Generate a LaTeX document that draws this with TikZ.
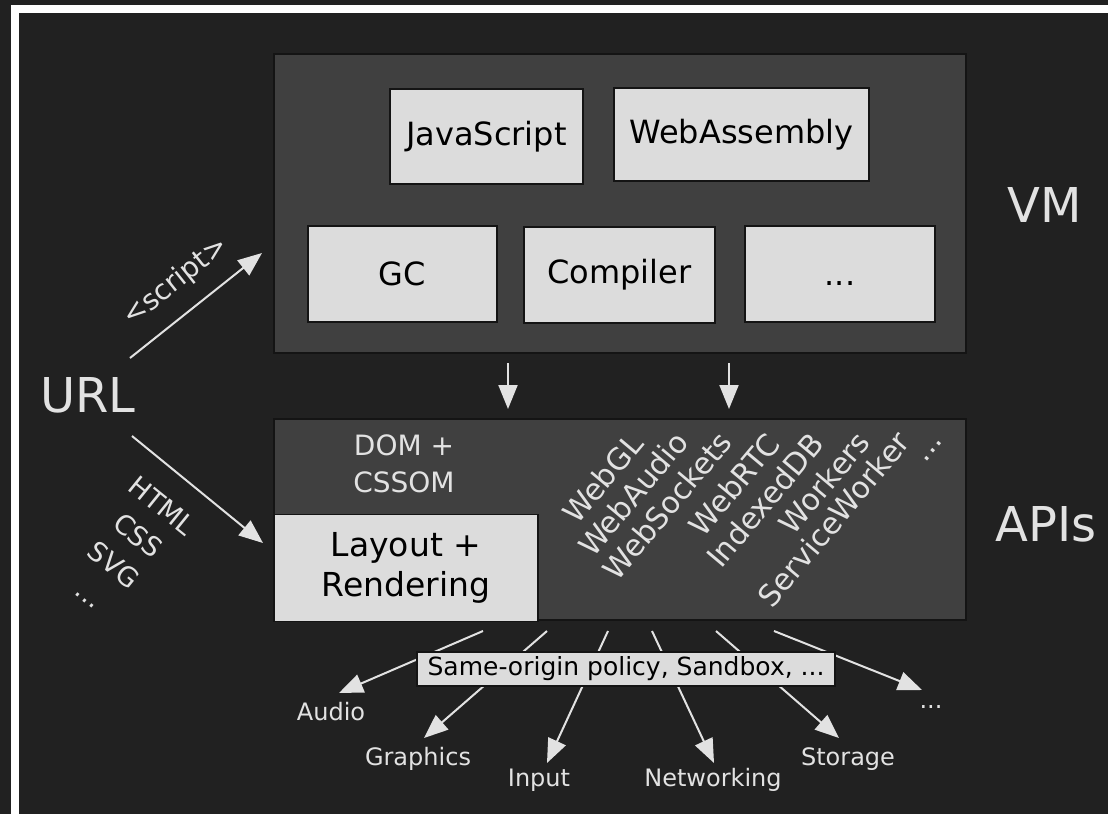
\documentclass[tikz,border=0pt]{standalone}
\usepackage{fontspec}
\setmainfont{DejaVu Sans}
\usetikzlibrary{arrows.meta}
\definecolor{bg}{HTML}{212121}
\definecolor{panel}{HTML}{404040}
\definecolor{lite}{HTML}{DCDCDC}
\definecolor{ink}{HTML}{E2E2E2}
\definecolor{edge}{HTML}{141414}
\begin{document}
\begin{tikzpicture}[x=1pt,y=-1pt,
  panelbox/.style={draw=edge, line width=2pt, fill=panel, inner sep=0pt},
  litebox/.style={draw=edge, line width=1.6pt, fill=lite, text=black, inner sep=0pt, font=\fontsize{32}{38}\selectfont},
  arr/.style={draw=ink, line width=2pt, -{Triangle[length=24pt,width=19pt]}},
  biglbl/.style={text=ink, inner sep=0pt, font=\fontsize{48}{56}\selectfont},
  lbl/.style={text=ink, inner sep=0pt, font=\fontsize{24}{30}\selectfont},
  apilbl/.style={text=ink, inner sep=0pt, rotate=50, anchor=base east, font=\fontsize{30}{36}\selectfont}
]
% background and frame
\fill[bg] (0,0) rectangle (1108,814);
\fill[white] (11,5) rectangle (1108,13);
\fill[white] (11,5) rectangle (19,814);
\useasboundingbox (0,0) rectangle (1108,814);

% VM panel
\node[panelbox, minimum width=692pt, minimum height=299pt] (vm) at (620,203.5) {};
\node[litebox, minimum width=193pt, minimum height=95pt] (js) at (486.5,136.5) {JavaScript};
\node[litebox, minimum width=255pt, minimum height=93pt] (wasm) at (741.5,134.5) {WebAssembly};
\node[litebox, minimum width=189pt, minimum height=96pt] (gc) at (402.5,274) {GC};
\node[litebox, minimum width=191pt, minimum height=96pt] (comp) at (619.5,275) {Compiler};
\node[litebox, minimum width=190pt, minimum height=96pt] (more) at (840,274) {\vphantom{C}...};
\node[biglbl] (vmlbl) at (1045,205) {VM};

% APIs panel
\node[panelbox, minimum width=692pt, minimum height=201pt] (apis) at (620,519.5) {};
\node[litebox, minimum width=264pt, minimum height=107pt, align=center, font=\fontsize{33}{40}\selectfont] (layout) at (406,568) {Layout +\\Rendering};
\node[text=ink, inner sep=0pt, align=center, font=\fontsize{28}{37}\selectfont] (dom) at (404,464) {DOM +\\CSSOM};
\node[biglbl] (apilbl) at (1046,524) {APIs};

\node[apilbl] (webgl) at (645,445) {WebGL};
\node[apilbl] (webaudio) at (690,443) {WebAudio};
\node[apilbl] (websockets) at (734,443) {WebSockets};
\node[apilbl] (webrtc) at (782,445) {WebRTC};
\node[apilbl] (idb) at (826,445) {IndexedDB};
\node[apilbl] (workers) at (872,443) {Workers};
\node[apilbl] (sw) at (912,443) {ServiceWorker};
\node[apilbl] (apimore) at (944,441) {...};

% VM -> APIs arrows
\coordinate (cx1) at (508,0);
\coordinate (cx2) at (729,0);
\draw[arr, shorten <=9pt, shorten >=9pt] (vm.south -| cx1) -- (apis.north -| cx1);
\draw[arr, shorten <=9pt, shorten >=9pt] (vm.south -| cx2) -- (apis.north -| cx2);

% URL
\node[biglbl] (url) at (88,395) {URL};
\coordinate (u1s) at (130,358);
\coordinate (u1e) at (262,253);
\coordinate (u2s) at (132,436);
\coordinate (u2e) at (263,543);
\draw[arr] (u1s) -- (u1e);
\draw[arr] (u2s) -- (u2e);
\node[text=ink, inner sep=0pt, rotate=38.5, font=\fontsize{28}{32}\selectfont] (scr) at (176,282) {<script>};
\node[text=ink, inner sep=0pt, rotate=-39, align=center, font=\fontsize{27}{38}\selectfont] (fmt) at (126,550) {HTML\\CSS\\SVG\\...};

% bottom arrows
\coordinate (b1s) at (483,631); \coordinate (b1e) at (339,693);
\coordinate (b2s) at (547,631); \coordinate (b2e) at (424,738);
\coordinate (b3s) at (608,631); \coordinate (b3e) at (547,763);
\coordinate (b4s) at (652,631); \coordinate (b4e) at (714,763);
\coordinate (b5s) at (716,631); \coordinate (b5e) at (839,738);
\coordinate (b6s) at (774,631); \coordinate (b6e) at (922,690);
\foreach \i in {1,...,6} { \draw[arr] (b\i s) -- (b\i e); }
\node[litebox, minimum width=418pt, minimum height=34pt, font=\fontsize{25}{30}\selectfont] (sop) at (626,669) {Same-origin policy, Sandbox, ...};

\node[lbl, anchor=base] (audio) at (331,720) {Audio};
\node[lbl, anchor=base] (graphics) at (418,765) {Graphics};
\node[lbl, anchor=base] (input) at (539,786) {Input};
\node[lbl, anchor=base] (net) at (713,786) {Networking};
\node[lbl, anchor=base] (storage) at (848,765) {Storage};
\node[lbl, anchor=base] (dots) at (931,708) {...};
\end{tikzpicture}
\end{document}
